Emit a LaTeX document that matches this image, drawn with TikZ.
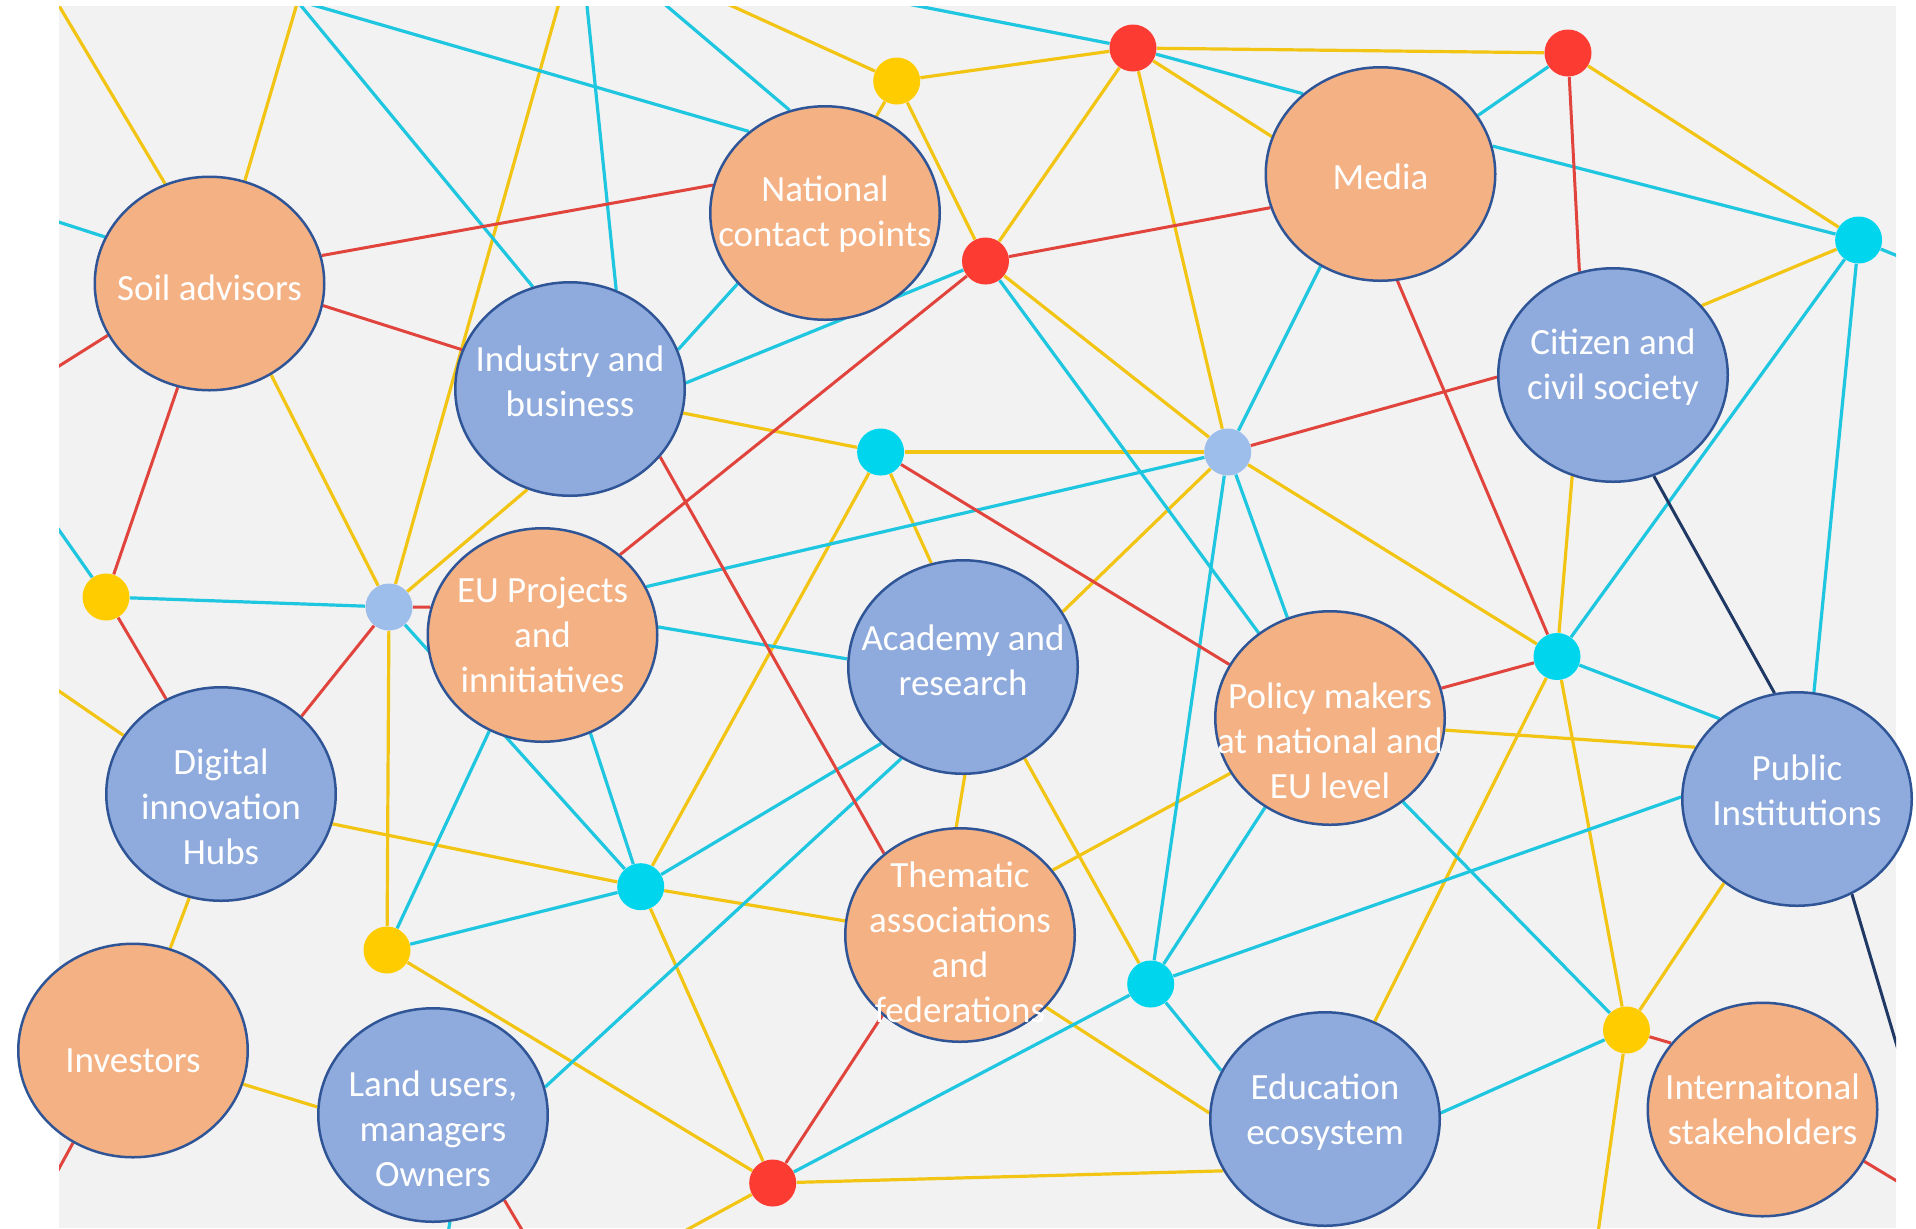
\documentclass[tikz,border=0pt]{standalone}
\usepackage{fontspec}
\setmainfont{Carlito}
\usetikzlibrary{shapes.geometric,calc}
\pgfdeclarelayer{bg}
\pgfdeclarelayer{wires}
\pgfsetlayers{bg,wires,main}
\definecolor{bgray}{HTML}{F2F2F2}
\definecolor{orfill}{HTML}{F4B183}
\definecolor{blfill}{HTML}{8FAADC}
\definecolor{rim}{HTML}{2F5597}
\definecolor{lyel}{RGB}{242,197,20}
\definecolor{lcya}{RGB}{30,198,224}
\definecolor{lred}{RGB}{224,68,60}
\definecolor{lnav}{HTML}{1F3864}
\definecolor{dyel}{RGB}{255,204,0}
\definecolor{dred}{RGB}{252,60,50}
\definecolor{dcya}{RGB}{0,213,238}
\definecolor{dlbl}{RGB}{157,189,235}
\tikzset{
  orb/.style={ellipse, draw=rim, line width=1.25pt, minimum width=114.75pt, minimum height=106.75pt, inner sep=0pt},
  orng/.style={orb, fill=orfill},
  blu/.style={orb, fill=blfill},
  lbl/.style={text=white, align=center, inner sep=0pt, font=\fontsize{18.5}{22.5}\selectfont},
  dotnode/.style={circle, minimum size=23.5pt, inner sep=0pt},
  dotY/.style={dotnode, fill=dyel},
  dotR/.style={dotnode, fill=dred},
  dotC/.style={dotnode, fill=dcya},
  dotL/.style={dotnode, fill=dlbl},
  wy/.style={draw=lyel, line width=1.6pt},
  wc/.style={draw=lcya, line width=1.6pt},
  wr/.style={draw=lred, line width=1.5pt},
  wn/.style={draw=lnav, line width=1.5pt}
}
\begin{document}
\begin{tikzpicture}[x=0.5pt,y=-0.5pt]
\useasboundingbox (0,0) rectangle (1916,1228);
\begin{pgfonlayer}{bg}
  \fill[bgray] (59,6) rectangle (1896,1228);
\end{pgfonlayer}

% small dots
\node[dotY] (ya) at (896.7,81) {};
\node[dotR] (rb) at (1133,48) {};
\node[dotR] (rc) at (1568,53) {};
\node[dotR] (rd) at (985.5,261) {};
\node[dotC] (ce) at (1858.6,240) {};
\node[dotC] (cf) at (880.6,452) {};
\node[dotL] (lg) at (1227.7,452) {};
\node[dotY] (yh) at (106,597) {};
\node[dotL] (li) at (389,607) {};
\node[dotC] (cj) at (1557,656.5) {};
\node[dotC] (ck) at (640.7,886.7) {};
\node[dotY] (yl) at (387,950) {};
\node[dotC] (cm) at (1150.7,984) {};
\node[dotY] (yn) at (1626.5,1030) {};
\node[dotR] (ro) at (772.7,1183) {};

% big ellipses
\node[orng] (S) at (209.5,283.5) {};
\node[orng] (NCP) at (825,213) {};
\node[blu] (I) at (570,389) {};
\node[orng] (M) at (1380.5,174) {};
\node[blu] (C) at (1613,375) {};
\node[orng] (EU) at (542.5,635) {};
\node[blu] (DIH) at (221,794) {};
\node[orng] (Inv) at (133,1050.5) {};
\node[blu] (L) at (433,1115) {};
\node[orng] (T) at (960,935) {};
\node[blu] (A) at (963,667) {};
\node[orng] (P) at (1330,718) {};
\node[blu] (PI) at (1797,799) {};
\node[blu] (E) at (1325,1119) {};
\node[orng] (Int) at (1762.5,1109.5) {};

% labels
\node[lbl] (S-t) at ($(S)+(0,4)$) {Soil advisors};
\node[lbl] (NCP-t) at ($(NCP)+(0,1)$) {National\\contact points};
\node[lbl] (I-t) at ($(I)+(0,-8)$) {Industry and\\business};
\node[lbl] (M-t) at ($(M)+(0,3)$) {Media};
\node[lbl] (C-t) at ($(C)+(0,-8)$) {Citizen and\\civil society};
\node[lbl] (EU-t) at ($(EU)+(0,0)$) {EU Projects\\and\\innitiatives};
\node[lbl] (DIH-t) at ($(DIH)+(0,13)$) {Digital\\innovation\\Hubs};
\node[lbl] (Inv-t) at ($(Inv)+(0,10)$) {Investors};
\node[lbl] (L-t) at ($(L)+(0,14)$) {Land users,\\managers\\Owners};
\node[lbl] (T-t) at ($(T)+(0,7)$) {Thematic\\associations\\and\\federations};
\node[lbl] (A-t) at ($(A)+(0,-7)$) {Academy and\\research};
\node[lbl] (P-t) at ($(P)+(0,23)$) {Policy makers\\at national and\\EU level};
\node[lbl] (PI-t) at ($(PI)+(0,-9)$) {Public\\Institutions};
\node[lbl] (E-t) at ($(E)+(0,-7)$) {Education\\ecosystem};
\node[lbl] (Int-t) at ($(Int)+(0,0)$) {Internaitonal\\stakeholders};

% free ends outside the frame
\coordinate (oSY1) at (52,-6);
\coordinate (oSY2) at (301,-10);
\coordinate (oSC) at (40,216);
\coordinate (oSR) at (40,378);
\coordinate (oIC1) at (293,-4);
\coordinate (oIC2) at (586,-4);
\coordinate (oNC1) at (282,-4);
\coordinate (oNC2) at (655,-4);
\coordinate (oA) at (710,-4);
\coordinate (oB) at (867,-4);
\coordinate (oE) at (1910,261);
\coordinate (oPI) at (1910,1090);
\coordinate (oN) at (1597,1240);
\coordinate (oInt) at (1910,1189);
\coordinate (oO) at (668,1240);
\coordinate (oI) at (561,-4);
\coordinate (oH) at (40,503);
\coordinate (oDIH) at (40,678);
\coordinate (oInv) at (40,1203);
\coordinate (oL1) at (528,1240);
\coordinate (oL2) at (447,1240);

\begin{pgfonlayer}{wires}
\begin{scope}
\clip (59,6) rectangle (1896,1228);
% yellow
\draw[wy] (oSY1) -- (S.114);
\draw[wy] (oSY2) -- (S.71);
\draw[wy] (S.-56) -- (li);
\draw[wy] (oI) -- (li);
\draw[wy] (I.247) -- (li);
\draw[wy] (li) -- (yl);
\draw[wy] (oA) -- (ya);
\draw[wy] (ya) -- (rb);
\draw[wy] (ya) -- (NCP.62);
\draw[wy] (ya) -- (rd);
\draw[wy] (rb) -- (rc);
\draw[wy] (rb) -- (M.161);
\draw[wy] (rb) -- (rd);
\draw[wy] (rb) -- (lg);
\draw[wy] (rc) -- (ce);
\draw[wy] (ce) -- (C.38);
\draw[wy] (rd) -- (lg);
\draw[wy] (I.-12.6) -- (cf);
\draw[wy] (cf) -- (lg);
\draw[wy] (cf) -- (A.107);
\draw[wy] (cf) -- (ck);
\draw[wy] (lg) -- (A.29);
\draw[wy] (lg) -- (cj);
\draw[wy] (C.248) -- (cj);
\draw[wy] (cj) -- (yn);
\draw[wy] (cj) -- (E.63);
\draw[wy] (PI.229) -- (yn);
\draw[wy] (P.-6) -- (PI.153);
\draw[wy] (T.35) -- (P.209);
\draw[wy] (T.-40) -- (E.177);
\draw[wy] (A.-89) -- (T.92);
\draw[wy] (A.-56) -- (cm);
\draw[wy] (DIH.-15) -- (ck);
\draw[wy] (ck) -- (T.173.5);
\draw[wy] (ck) -- (ro);
\draw[wy] (yl) -- (ro);
\draw[wy] (ro) -- (E.207);
\draw[wy] (ro) -- (oO);
\draw[wy] (yn) -- (oN);
\draw[wy] (oDIH) -- (DIH.149);
\draw[wy] (DIH.253) -- (Inv.70);
\draw[wy] (Inv.-17) -- (L.176);
% cyan
\draw[wc] (oSC) -- (S.156);
\draw[wc] (oIC1) -- (I.110);
\draw[wc] (oIC2) -- (I.65);
\draw[wc] (oNC1) -- (NCP.133);
\draw[wc] (oNC2) -- (NCP.109);
\draw[wc] (I.20.5) -- (NCP.219.5);
\draw[wc] (I.3.6) -- (rd);
\draw[wc] (oB) -- (rb);
\draw[wc] (rb) -- (M.134);
\draw[wc] (rc) -- (M.31);
\draw[wc] (M.14.7) -- (ce);
\draw[wc] (ce) -- (oE);
\draw[wc] (ce) -- (cj);
\draw[wc] (ce) -- (PI.81);
\draw[wc] (M.237.6) -- (lg);
\draw[wc] (EU.25.6) -- (lg);
\draw[wc] (lg) -- (cm);
\draw[wc] (lg) -- (P.113);
\draw[wc] (rd) -- (P.130);
\draw[wc] (cj) -- (PI.134);
\draw[wc] (cm) -- (P.234);
\draw[wc] (cm) -- (PI.179.4);
\draw[wc] (cm) -- (E.155);
\draw[wc] (P.-49.6) -- (yn);
\draw[wc] (E.3.4) -- (yn);
\draw[wc] (oH) -- (yh);
\draw[wc] (yh) -- (li);
\draw[wc] (li) -- (ck);
\draw[wc] (EU.4.1) -- (A.176);
\draw[wc] (EU.-64) -- (ck);
\draw[wc] (EU.241.5) -- (yl);
\draw[wc] (yl) -- (ck);
\draw[wc] (ck) -- (A.223.6);
\draw[wc] (L.14.3) -- (A.236.6);
\draw[wc] (ro) -- (cm);
\draw[wc] (L.-81) -- (oL2);
% red
\draw[wr] (S.14) -- (NCP.166);
\draw[wr] (S.-11.7) -- (I.160.5);
\draw[wr] (S.207.6) -- (oSR);
\draw[wr] (S.253.6) -- (yh);
\draw[wr] (yh) -- (DIH.120);
\draw[wr] (li) -- (EU.166);
\draw[wr] (li) -- (DIH.44);
\draw[wr] (I.-37.8) -- (T.133.7);
\draw[wr] (rd) -- (M.197.6);
\draw[wr] (rd) -- (EU.46.5);
\draw[wr] (rc) -- (C.108);
\draw[wr] (lg) -- (C.181.3);
\draw[wr] (M.-81.3) -- (cj);
\draw[wr] (cf) -- (P.152.8);
\draw[wr] (P.15.3) -- (cj);
\draw[wr] (ro) -- (T.226);
\draw[wr] (yn) -- (Int.144.5);
\draw[wr] (Int.-27.7) -- (oInt);
\draw[wr] (Inv.237.5) -- (oInv);
\draw[wr] (L.-50.7) -- (oL1);
% navy
\draw[wn] (C.-68) -- (PI.102);
\draw[wn] (PI.-60.4) -- (oPI);
\end{scope}
\end{pgfonlayer}
\end{tikzpicture}
\end{document}
